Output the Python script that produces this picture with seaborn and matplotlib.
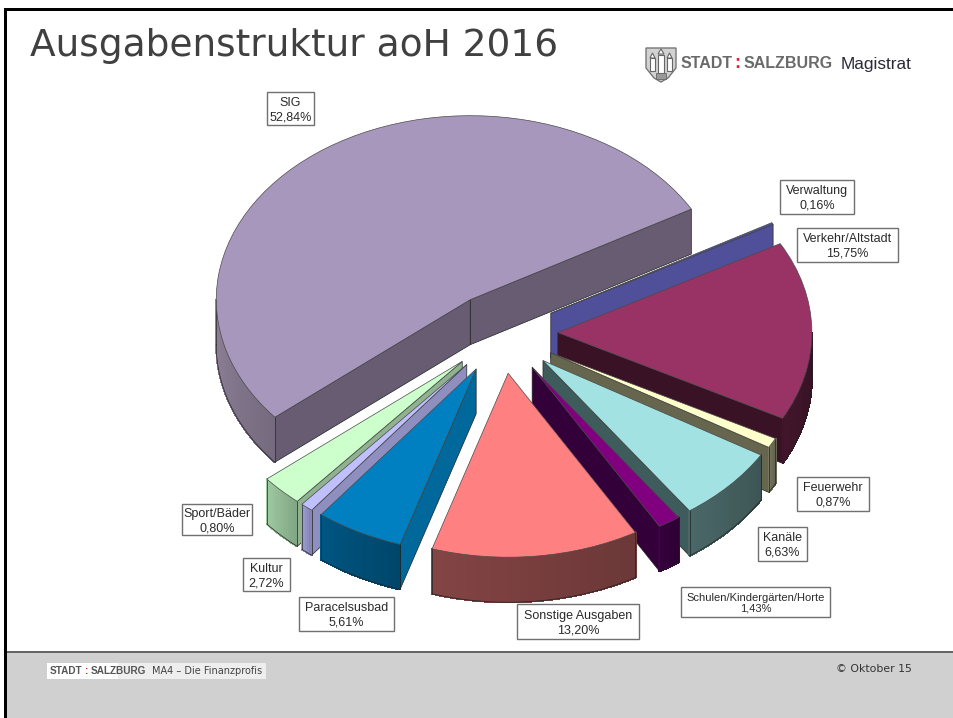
import numpy as np
import matplotlib
matplotlib.use("Agg")
import matplotlib.pyplot as plt
import seaborn as sns
from matplotlib.colors import to_rgb
from matplotlib.patches import Polygon, Rectangle
from matplotlib.transforms import Affine2D

sns.set_theme(style="white")
plt.rcParams['font.family'] = ['Liberation Sans', 'DejaVu Sans']

# slices counterclockwise, starting with the big one
categories = ["SIG", "Kultur", "Sport/Bäder", "Paracelsusbad", "Sonstige Ausgaben",
              "Schulen/Kindergärten/Horte", "Kanäle", "Feuerwehr", "Verkehr/Altstadt", "Verwaltung"]
values = [52.84, 2.72, 0.80, 5.61, 13.20, 1.43, 6.63, 0.87, 15.75, 0.16]
value_labels = ["52,84%", "2,72%", "0,80%", "5,61%", "13,20%", "1,43%", "6,63%", "0,87%", "15,75%", "0,16%"]

top_colors = ["#a897bd", "#ccffcc", "#c0c0ff", "#0080c0", "#ff8080",
              "#800080", "#a3e2e2", "#ffffcc", "#993366", "#4f4f9f"]
cut_colors = ["#675c72", "#8fb38f", "#8f8fbf", "#00689b", "#6a3030",
              "#33003a", "#3f5c5c", "#66664f", "#3a1226", "#50509a"]
rim_colors = ["#85798f", "#93bc96", "#9292c4", "#004f78", "#7a3f3f",
              "#33003a", "#456060", "#70705a", "#3d1428", "#50509a"]

# label boxes in picture pixels: left, top, width, height
label_boxes = [(267, 92, 47, 33), (243, 558, 47, 33), (182, 504, 70, 31), (299, 597, 95, 34),
               (517, 604, 122, 35), (681, 587, 149, 30), (758, 527, 49, 34), (797, 477, 72, 34),
               (797, 228, 101, 34), (780, 180, 74, 34)]

W, H = 954, 718
cx, cy = 502, 333      # pie centre
rx, ry = 254, 184      # pixels per pie radius
depth = 45 / ry
start = 29.5
explode = 0.22

fig = plt.figure(figsize=(W / 100, H / 100), dpi=100, facecolor="white")
px = Affine2D().scale(1 / W, -1 / H).translate(0, 1) + fig.transFigure

ax = fig.add_axes([0, 0, 1, 1])
wedges, _ = ax.pie(values, colors=top_colors, startangle=start, counterclock=True,
                   explode=[explode] * len(values), radius=1,
                   wedgeprops=dict(edgecolor="#4a4a4a", linewidth=0.5, zorder=50))
ax.set_aspect("auto")
ax.set_xlim(-cx / rx, (W - cx) / rx)
ax.set_ylim((cy - H) / ry, cy / ry)


def rim(w, t):
    t = np.radians(t)
    return w.center[0] + w.r * np.cos(t), w.center[1] + w.r * np.sin(t)


def shade(col, f):
    r, g, b = to_rgb(col)
    return min(r * f, 1), min(g * f, 1), min(b * f, 1)


def cut_face(w, t, col, z):
    x, y = rim(w, t)
    x0, y0 = w.center
    ax.add_patch(Polygon([(x0, y0), (x, y), (x, y - depth), (x0, y0 - depth)], closed=True,
                         facecolor=col, edgecolor="#222222", linewidth=0.5, zorder=z))


# walls, back to front
order = sorted(range(len(wedges)), key=lambda i: -wedges[i].center[1])
for z, i in enumerate(order):
    w = wedges[i]
    t1, t2 = w.theta1 % 360, w.theta2 % 360
    if t2 < t1:
        t2 += 360
    if np.cos(np.radians(t1)) > 0:
        cut_face(w, t1, cut_colors[i], z)
    if np.cos(np.radians(t2)) < 0:
        cut_face(w, t2, cut_colors[i], z)
    # outer wall: only the part of the rim that faces down
    for lo, hi in [(t1, t2), (t1 - 360, t2 - 360)]:
        a, b = max(lo, 180), min(hi, 360)
        if a >= b:
            continue
        n = max(int((b - a) / 0.5), 2)
        ts = np.linspace(a, b, n + 1)
        for k in range(n):
            c = shade(rim_colors[i], 1.08 - 0.2 * k / n)
            xa, ya = rim(w, ts[k])
            xb, yb = rim(w, ts[k + 1])
            ax.add_patch(Polygon([(xa, ya), (xb, yb), (xb, yb - depth), (xa, ya - depth)],
                                 closed=True, facecolor=c, edgecolor=c, linewidth=0.8,
                                 antialiased=False, zorder=z + 0.5))
        xs, ys = rim(w, ts)
        ax.plot(xs, ys - depth, color="#222222", lw=0.5, zorder=z + 0.6)
        for t in (a, b):
            xe, ye = rim(w, t)
            ax.plot([xe, xe], [ye, ye - depth], color="#222222", lw=0.5, zorder=z + 0.6)

# value labels
for name, val, (l, t, bw, bh) in zip(categories, value_labels, label_boxes):
    fig.add_artist(Rectangle((l, t), bw, bh, transform=px, facecolor="white",
                             edgecolor="#707070", linewidth=1, zorder=5))
    fs = 8 if name.startswith("Schulen") else 9
    fig.text(l + bw / 2, t + bh / 2 + 1.5, f"{name}\n{val}", transform=px, ha="center", va="center",
             fontsize=fs, color="#2a2a2a", linespacing=1.25 if fs == 9 else 1.05, zorder=6)

# slide frame and footer
fig.add_artist(Rectangle((7, 652), W - 7, H - 652, transform=px, facecolor="#d0d0d0", edgecolor="none", zorder=1))
fig.add_artist(Rectangle((7, 651), W - 7, 1.6, transform=px, facecolor="#666666", edgecolor="none", zorder=2))
fig.add_artist(Rectangle((4, 8), W - 4, 3, transform=px, facecolor="black", edgecolor="none", zorder=2))
fig.add_artist(Rectangle((4, 8), 3, H - 8, transform=px, facecolor="black", edgecolor="none", zorder=2))

# title
fig.text(30, 46.5, "Ausgabenstruktur aoH 2016", transform=px, family="DejaVu Sans", fontsize=27,
         color="#404040", ha="left", va="center")

# logo top right
fig.add_artist(Polygon([(646, 48), (676, 48), (676, 68), (668, 78), (661, 82), (654, 78), (646, 68)],
                       closed=True, transform=px, facecolor="#d2d2d2", edgecolor="#777777", linewidth=1, zorder=3))
for l, t, bw, bh in [(650, 58, 5, 13), (658, 55, 6, 18), (667, 58, 5, 13)]:
    fig.add_artist(Rectangle((l, t), bw, bh, transform=px, facecolor="white", edgecolor="#666666", linewidth=0.8, zorder=4))
for l, bw, t in [(650, 5, 53), (658, 6, 49), (667, 5, 53)]:
    fig.add_artist(Polygon([(l, t + 5), (l + bw / 2, t), (l + bw, t + 5)], closed=True, transform=px,
                           facecolor="white", edgecolor="#666666", linewidth=0.8, zorder=4))
fig.add_artist(Rectangle((656, 73), 10, 6, transform=px, facecolor="#999999", edgecolor="#666666", linewidth=0.6, zorder=4))
fig.text(681, 64, "STADT", transform=px, fontweight="bold", fontsize=11.5, color="#6a6a6a", va="center")
fig.text(737, 64, ":", transform=px, fontweight="bold", fontsize=13, color="#d9232e", va="center", ha="center")
fig.text(744, 64, "SALZBURG", transform=px, fontweight="bold", fontsize=11.5, color="#6a6a6a", va="center")
fig.text(841, 64.5, "Magistrat", transform=px, fontsize=12.4, color="#2a2a3a", va="center")

# footer texts
fig.add_artist(Rectangle((47, 663), 219, 16, transform=px, facecolor="#eeeeee", edgecolor="none", zorder=2))
fig.add_artist(Rectangle((47, 663), 71, 16, transform=px, facecolor="white", edgecolor="none", zorder=2))
fig.text(50, 671, "STADT", transform=px, fontweight="bold", fontsize=7.2, color="#555555", va="center")
fig.text(85, 671, ":", transform=px, fontweight="bold", fontsize=7.5, color="#d9232e", va="center")
fig.text(91, 671, "SALZBURG", transform=px, fontweight="bold", fontsize=7.2, color="#555555", va="center")
fig.text(152, 671, "MA4 – Die Finanzprofis", transform=px, family="DejaVu Sans", fontsize=7, color="#444444", va="center")
fig.text(836, 669, "© Oktober 15", transform=px, family="DejaVu Sans", fontsize=7.8, color="#333333", va="center")

fig.savefig("out.png", dpi=100)
